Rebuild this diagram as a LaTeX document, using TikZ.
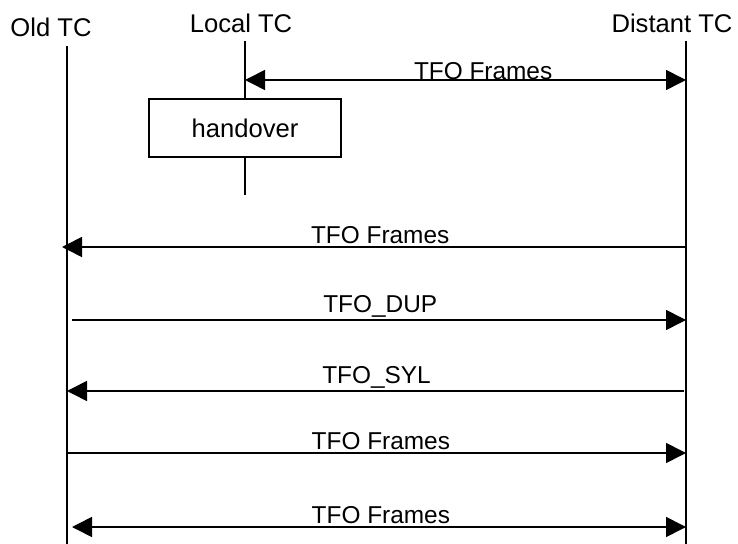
\documentclass[tikz,border=0pt]{standalone}
\usepackage{fontspec}
\setmainfont{Liberation Sans}
\usetikzlibrary{arrows.meta}

\tikzset{
  life/.style={black, line width=1pt},
  msg/.style={black, line width=0.8pt, >={Triangle[length=10pt,width=10pt]}},
  lbl/.style={above, inner sep=1, font=\fontsize{12.2}{14}\selectfont},
  head/.style={inner sep=0, font=\fontsize{12.8}{15}\selectfont},
}

\begin{document}
\begin{tikzpicture} [x=0.5pt, y=-0.5pt]
\useasboundingbox (0,0) rectangle (738,544);
% entities
\node[head] (oldtc) at (51,27) {Old TC};
\node[head] (localtc) at (241,23) {Local TC};
\node[head] (distanttc) at (672,23) {Distant TC};
\coordinate (old) at (67,46);
\coordinate (oldend) at (67,544);
\coordinate (loc) at (245,41);
\coordinate (locend) at (245,195);
\coordinate (dist) at (686,41);
\coordinate (distend) at (686,544);
\node[draw, line width=0.8pt, minimum width=96pt, minimum height=29pt, font=\fontsize{12.8}{15}\selectfont] (handover) at (245,128) {handover};
\draw[life] (old) -- (oldend);
\draw[life] (dist) -- (distend);
\draw[life] (loc) -- (handover.north);
\draw[life] (handover.south) -- (locend);
% message levels
\foreach \y [count=\i] in {80,247,320,391,453,527}
  \coordinate (m\i) at (0,\y);
\draw[msg, <->] (loc |- m1) -- (dist |- m1) node[lbl, pos=.54, yshift=-1.5] {TFO Frames};
\draw[msg, ->, shorten >=-2.5pt] (dist |- m2) -- (old |- m2) node[lbl, pos=.494] {TFO Frames};
\draw[msg, ->, shorten <=2.5pt] (old |- m3) -- (dist |- m3) node[lbl, pos=.506] {TFO\_DUP};
\draw[msg, ->, shorten <=1pt] (dist |- m4) -- (old |- m4) node[lbl, pos=.5] {TFO\_SYL};
\draw[msg, ->] (old |- m5) -- (dist |- m5) node[lbl, pos=.507] {TFO Frames};
\draw[msg, <->, shorten <=2.5pt] (old |- m6) -- (dist |- m6) node[lbl, pos=.507] {TFO Frames};
\end{tikzpicture}
\end{document}
